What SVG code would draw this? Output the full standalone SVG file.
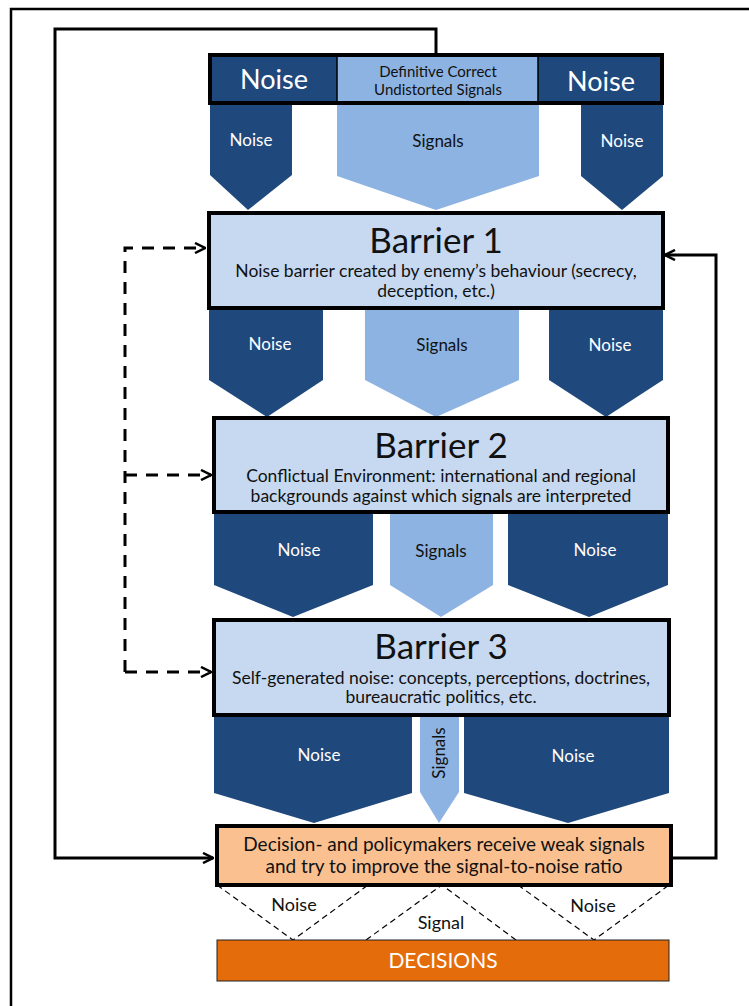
<svg xmlns="http://www.w3.org/2000/svg" width="749" height="1006" viewBox="0 0 749 1006">
<defs>
<style>
text{font-family:Lato,"Open Sans","Liberation Sans",sans-serif;text-anchor:middle}
.dk{fill:#1F497D}
.md{fill:#8DB3E2}
.wt{fill:#ffffff}
.bk{fill:#111111}
.box{stroke:#000;stroke-width:4}
.frame{fill:none;stroke:#000;stroke-width:2.5}
.conn{fill:none;stroke:#000;stroke-width:3}
.dash{fill:none;stroke:#000;stroke-width:3;stroke-dasharray:12 9}
.thin{fill:none;stroke:#000;stroke-width:1.2;stroke-dasharray:6 4}
.lbl{font-size:17px}
.ttl{font-size:35px}
.sub{font-size:17.5px}
.bot{font-size:18px}
</style>
<marker id="ah" viewBox="0 0 12 12" refX="11" refY="6" markerWidth="12" markerHeight="12" markerUnits="userSpaceOnUse" orient="auto">
<path d="M1,1 L11,6 L1,11" fill="none" stroke="#000" stroke-width="2.5"/>
</marker>
</defs>
<rect width="749" height="1006" fill="#fff"/>
<path class="frame" d="M11,1006 V9 H749"/>

<g id="header">
<rect x="210" y="55" width="127" height="48" class="dk"/>
<rect x="337" y="55" width="201" height="48" class="md"/>
<rect x="538" y="55" width="124" height="48" class="dk"/>
<rect x="210" y="55" width="452" height="48" fill="none" class="box"/>
<line x1="337" y1="55" x2="337" y2="103" stroke="#000" stroke-width="1.5"/>
<line x1="538" y1="55" x2="538" y2="103" stroke="#000" stroke-width="1.5"/>
<text x="274" y="89" class="wt" style="font-size:27px">Noise</text>
<text x="601" y="91" class="wt" style="font-size:27px">Noise</text>
<text x="438" y="77" class="bk" style="font-size:15px">Definitive Correct</text>
<text x="438" y="95" class="bk" style="font-size:15px">Undistorted Signals</text>
</g>

<g id="flow0">
<polygon class="dk" points="210,105 292,105 292,175 248,210 210,175"/>
<polygon class="md" points="337,105 539,105 539,176 436,210 337,176"/>
<polygon class="dk" points="581,105 663,105 663,176 622,210 581,176"/>
<text x="251" y="146" class="wt lbl">Noise</text>
<text x="438" y="147" class="bk lbl">Signals</text>
<text x="622" y="147" class="wt lbl">Noise</text>
</g>

<g id="barrier1">
<rect x="209" y="213" width="454" height="95" fill="#C6D9F1" class="box"/>
<text x="436" y="253" class="bk ttl">Barrier 1</text>
<text x="436" y="277" class="bk sub">Noise barrier created by enemy’s behaviour (secrecy,</text>
<text x="436" y="297" class="bk sub">deception, etc.)</text>
</g>

<g id="flow1">
<polygon class="dk" points="209,310 323,310 323,380 267,417 209,380"/>
<polygon class="md" points="365,310 519,310 519,380 436,417 365,380"/>
<polygon class="dk" points="549,310 663,310 663,380 606,417 549,380"/>
<text x="270" y="350" class="wt lbl">Noise</text>
<text x="442" y="351" class="bk lbl">Signals</text>
<text x="610" y="351" class="wt lbl">Noise</text>
</g>

<g id="barrier2">
<rect x="214" y="418" width="454" height="94" fill="#C6D9F1" class="box"/>
<text x="441" y="458" class="bk ttl">Barrier 2</text>
<text x="441" y="482" class="bk sub">Conflictual Environment: international and regional</text>
<text x="441" y="502" class="bk sub">backgrounds against which signals are interpreted</text>
</g>

<g id="flow2">
<polygon class="dk" points="214,514 373,514 373,585 293,617 214,585"/>
<polygon class="md" points="390,514 493,514 493,585 441,617 390,585"/>
<polygon class="dk" points="508,514 668,514 668,585 589,617 508,585"/>
<text x="299" y="556" class="wt lbl">Noise</text>
<text x="441" y="557" class="bk lbl">Signals</text>
<text x="595" y="556" class="wt lbl">Noise</text>
</g>

<g id="barrier3">
<rect x="214" y="620" width="455" height="95" fill="#C6D9F1" class="box"/>
<text x="441" y="659" class="bk ttl">Barrier 3</text>
<text x="441" y="684" class="bk sub">Self-generated noise: concepts, perceptions, doctrines,</text>
<text x="441" y="703" class="bk sub">bureaucratic politics, etc.</text>
</g>

<g id="flow3">
<polygon class="dk" points="214,717 412,717 412,793 314,823 214,793"/>
<polygon class="md" points="420,717 459,717 459,792 439,823 420,792"/>
<polygon class="dk" points="464,717 669,717 669,793 568,823 464,793"/>
<text x="319" y="761" class="wt lbl">Noise</text>
<text x="573" y="762" class="wt lbl">Noise</text>
<text x="0" y="0" class="bk lbl" transform="translate(445,753) rotate(-90)">Signals</text>
</g>

<g id="decision-makers">
<rect x="217" y="826" width="454" height="59" fill="#FAC090" class="box"/>
<text x="444" y="851" class="bk" style="font-size:19px">Decision- and policymakers receive weak signals</text>
<text x="444" y="873" class="bk" style="font-size:19px">and try to improve the signal-to-noise ratio</text>
</g>

<g id="filters">
<polyline class="thin" points="217,885 293,940 368,885"/>
<polyline class="thin" points="366,940 442,885 516,940"/>
<polyline class="thin" points="518,885 594,940 669,885"/>
<text x="294" y="911" class="bk bot">Noise</text>
<text x="441" y="929" class="bk bot">Signal</text>
<text x="593" y="912" class="bk bot">Noise</text>
</g>

<g id="decisions">
<rect x="217" y="940" width="452" height="41" fill="#E46C0A" stroke="#222" stroke-width="1"/>
<text x="443" y="968" class="wt" style="font-size:21px">DECISIONS</text>
</g>

<g id="connectors">
<path class="conn" d="M436,55 V29 H55 V858 H213" marker-end="url(#ah)"/>
<path class="conn" d="M671,858 H716 V255 H665" marker-end="url(#ah)"/>
<path class="dash" d="M125,672 V248 H205" marker-end="url(#ah)"/>
<path class="dash" d="M125,475 H211" marker-end="url(#ah)"/>
<path class="dash" d="M125,672 H211" marker-end="url(#ah)"/>
</g>
</svg>
